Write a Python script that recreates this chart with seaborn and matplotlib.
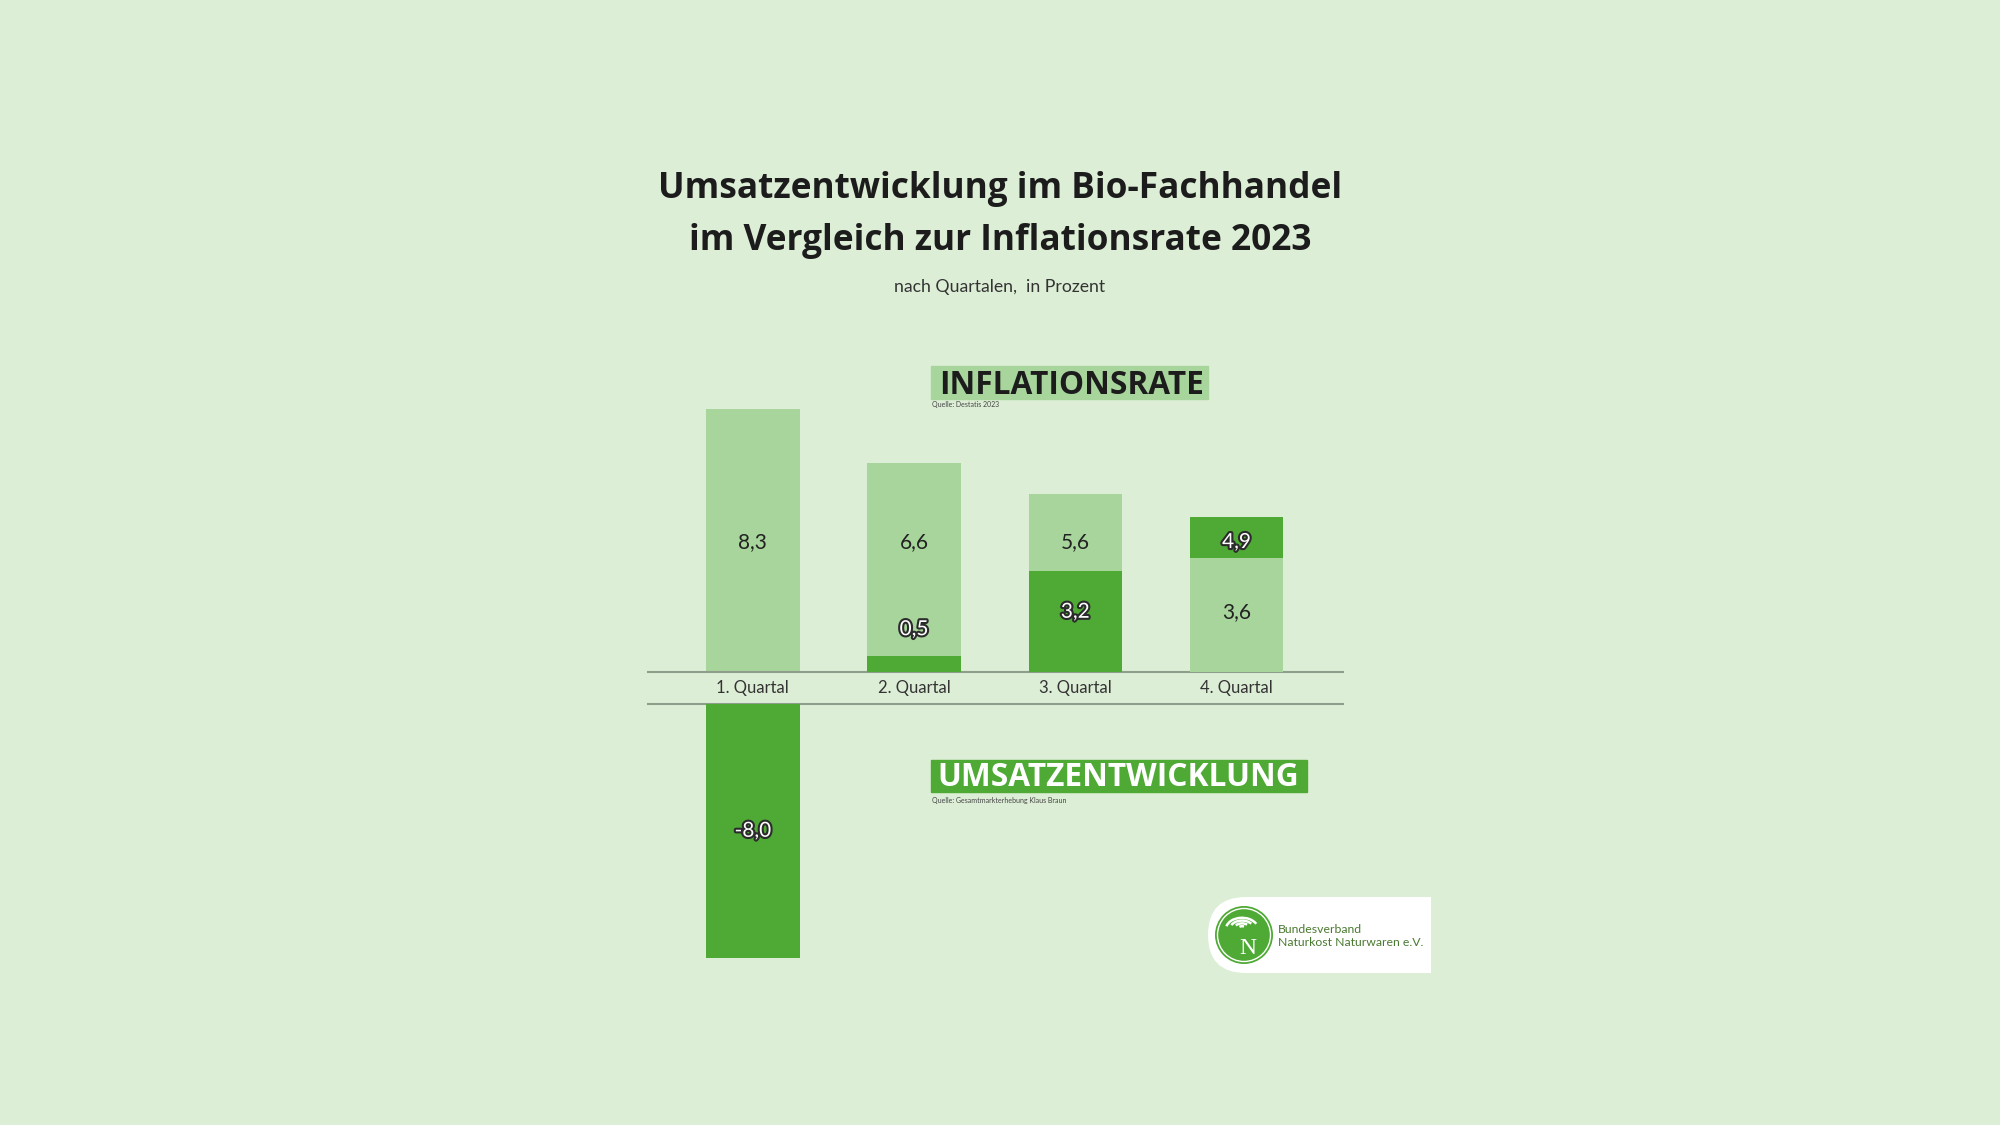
import numpy as np
import pandas as pd
import seaborn as sns
import matplotlib.pyplot as plt
import matplotlib.patheffects as pe
from matplotlib.patches import Rectangle, FancyBboxPatch, Circle, Arc

# data
quarters = ["1. Quartal", "2. Quartal", "3. Quartal", "4. Quartal"]
inflation = [8.3, 6.6, 5.6, 3.6]
umsatz = [-8.0, 0.5, 3.2, 4.9]

title_lines = ["Umsatzentwicklung im Bio-Fachhandel",
               "im Vergleich zur Inflationsrate 2023"]
subtitle = "nach Quartalen,  in Prozent"
label_inflation = "INFLATIONSRATE"
label_umsatz = "UMSATZENTWICKLUNG"
source_inflation = "Quelle: Destatis 2023"
source_umsatz = "Quelle: Gesamtmarkterhebung Klaus Braun"
logo_text = "Bundesverband\nNaturkost Naturwaren e.V."

BG = "#ddeed6"
LIGHT = "#a7d59b"
DARK = "#4faa35"
LINE = "#8e9e8b"
W, H = 2000, 1125
HEAD_FONT = ["Open Sans", "DejaVu Sans"]


def fx(px):
    return px / W


def fy(py):
    return 1 - py / H


def fmt(v):
    return f"{v:.1f}".replace(".", ",")


sns.set_theme(style="white")
plt.rcParams["font.family"] = ["Lato", "DejaVu Sans"]

df = pd.DataFrame({"quartal": quarters, "inflation": inflation, "umsatz": umsatz})

fig = plt.figure(figsize=(20, 11.25), dpi=100)
fig.patch.set_facecolor(BG)

# two axes with a label band between them (same scale)
unit = 31.7  # px per percentage point
top_max, bot_min = 9.0, -8.6
ax_w = fx(1343) - fx(648)
ax_top = fig.add_axes([fx(648), fy(672), ax_w, top_max * unit / H])
ax_bot = fig.add_axes([fx(648), fy(704) + bot_min * unit / H, ax_w, -bot_min * unit / H])

n = len(quarters)
for ax in (ax_top, ax_bot):
    sns.barplot(data=df, x="quartal", y="inflation", color=LIGHT, saturation=1,
                width=0.58, errorbar=None, linewidth=0, ax=ax)
    sns.barplot(data=df, x="quartal", y="umsatz", color=DARK, saturation=1,
                width=0.58, errorbar=None, linewidth=0, ax=ax)
    # shorter bar sits in front of the taller one
    for i in range(n):
        inf_bar, ums_bar = ax.patches[i], ax.patches[n + i]
        if abs(umsatz[i]) < inflation[i]:
            inf_bar.set_zorder(2)
            ums_bar.set_zorder(3)
        else:
            ums_bar.set_zorder(2)
            inf_bar.set_zorder(3)
    ax.set_xlim(-0.65, 3.66)
    ax.set_facecolor("none")
    ax.set_xlabel("")
    ax.set_ylabel("")
    ax.set_yticks([])
    for s in ax.spines.values():
        s.set_visible(False)

ax_top.set_ylim(0, top_max)
ax_bot.set_ylim(bot_min, 0)
ax_top.spines["bottom"].set_visible(True)
ax_top.spines["bottom"].set_color(LINE)
ax_top.spines["bottom"].set_linewidth(1.5)
ax_bot.spines["top"].set_visible(True)
ax_bot.spines["top"].set_color(LINE)
ax_bot.spines["top"].set_linewidth(1.5)
ax_top.tick_params(axis="x", length=0, pad=6, labelsize=12, labelcolor="#333333")
ax_bot.set_xticks([])

# value labels
stroke = [pe.withStroke(linewidth=3, foreground="#2b2b2b")]
for i in range(n):
    inf, ums = inflation[i], umsatz[i]
    y_inf = 4.1 if inf > ums else 1.9
    ax_top.text(i, y_inf, fmt(inf), ha="center", va="center", fontsize=15,
                color="#222222", zorder=5)
    if ums < 0:
        ax_bot.text(i, ums / 2, fmt(ums), ha="center", va="center", fontsize=15,
                    color="white", path_effects=stroke, zorder=5)
    else:
        if ums > inf:
            y_ums = 4.1
        elif ums >= 1.5:
            y_ums = 1.9
        else:
            y_ums = ums + 0.85
        ax_top.text(i, y_ums, fmt(ums), ha="center", va="center", fontsize=15,
                    color="white", path_effects=stroke, zorder=5)

# titles
fig.text(fx(1000), fy(189), title_lines[0], ha="center", va="center",
         fontsize=25.4, fontweight="bold", color="#1c1c1c", family=HEAD_FONT)
fig.text(fx(1000), fy(241), title_lines[1], ha="center", va="center",
         fontsize=25.4, fontweight="bold", color="#1c1c1c", family=HEAD_FONT)
fig.text(fx(1000), fy(287), subtitle, ha="center", va="center",
         fontsize=12.7, color="#333333")

# series labels with coloured boxes
fig.patches.append(Rectangle((fx(931), fy(399)), fx(1208) - fx(931), (399 - 366) / H,
                             transform=fig.transFigure, color=LIGHT, zorder=1))
fig.text(fx(939), fy(385), label_inflation, ha="left", va="center",
         fontsize=22.8, fontweight="bold", color="#1c1c1c", zorder=2, family=HEAD_FONT)
fig.text(fx(932), fy(405), source_inflation, ha="left", va="center",
         fontsize=5, color="#444444")

fig.patches.append(Rectangle((fx(931), fy(792)), fx(1307) - fx(931), (792 - 760) / H,
                             transform=fig.transFigure, color=DARK, zorder=1))
fig.text(fx(937), fy(778), label_umsatz, ha="left", va="center",
         fontsize=22.8, fontweight="bold", color="white", zorder=2, family=HEAD_FONT)
fig.text(fx(932), fy(801), source_umsatz, ha="left", va="center",
         fontsize=5, color="#444444")

# logo
lax = fig.add_axes([fx(1208), fy(973), fx(1431) - fx(1208), (973 - 897) / H])
lax.set_xlim(0, 223)
lax.set_ylim(0, 76)
lax.axis("off")
lax.add_patch(FancyBboxPatch((0, 0), 223, 76, boxstyle="round,pad=0,rounding_size=38",
                             facecolor="white", edgecolor="none"))
lax.add_patch(Rectangle((110, 0), 113, 76, facecolor="white", edgecolor="none"))
lax.add_patch(Circle((36, 38), 29, facecolor=DARK, edgecolor="none"))
lax.add_patch(Circle((36, 38), 26.5, facecolor="none", edgecolor="white", linewidth=1))
for r, t1, t2 in [(16, 20, 170), (12, 30, 160), (8, 40, 150), (4, 50, 140)]:
    lax.add_patch(Arc((34, 44), 2 * r, 1.4 * r, theta1=t1, theta2=t2,
                      color="white", linewidth=1.8))
lax.text(40, 24, "N", ha="center", va="center", fontsize=17, color="white",
         family=["Liberation Serif", "DejaVu Serif"])
lax.text(70, 37, logo_text, ha="left", va="center", fontsize=8.8,
         color="#4a7a30", linespacing=1.3)

fig.savefig("out.png", dpi=100, facecolor=fig.get_facecolor())
